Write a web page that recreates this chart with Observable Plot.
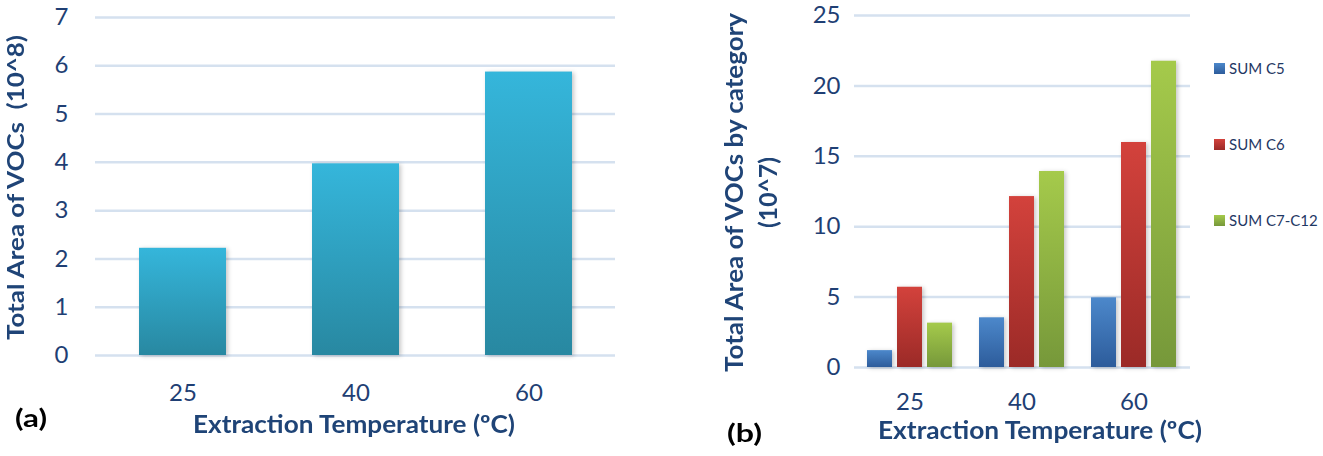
<!DOCTYPE html>
<html><head><meta charset="utf-8">
<script src="https://cdn.jsdelivr.net/npm/d3@7"></script>
<script src="https://cdn.jsdelivr.net/npm/@observablehq/plot@0.6"></script>
<style>
body{margin:0;background:#fff;}
#wrap{position:relative;width:1323px;height:456px;overflow:hidden;font-family:Lato,sans-serif;background:#fff;}
#wrap > svg{position:absolute;top:0;}
#legend{position:absolute;left:1214px;top:30px;color:#1f3864;font:15px Lato,sans-serif;}
#legend .row{height:76px;display:flex;align-items:center;}
#legend .sw{width:11px;height:11px;margin-right:4px;}
</style></head><body><div id="wrap"></div>
<script>
// ---- data ----
const temps = ["25", "40", "60"];
const totalVOCs = [2.22, 3.97, 5.87];          // (a) ×10^8
const seriesNames = ["SUM C5", "SUM C6", "SUM C7-C12"];
const sumC5 = [1.2, 3.53, 4.95];               // (b) ×10^7
const sumC6 = [5.7, 12.14, 15.98];
const sumC7C12 = [3.15, 13.92, 21.75];
const yTicksA = [0, 1, 2, 3, 4, 5, 6, 7];
const yTicksB = [0, 5, 10, 15, 20, 25];

const tickColor = "#1f3f74";
const titleColor = "#1f4477";
const gridColor = "#d5e1ef";
const tickFont = 24;

const gradients = {
  gA: ["#35b6db", "#2888a1"],
  gBlue: ["#4c88cb", "#2d5c9b"],
  gRed: ["#d3423c", "#9b2a27"],
  gGreen: ["#a5ca4b", "#76983a"]
};
function addDefs(svg) {
  let s = "<defs>";
  for (const [id, [a, b]] of Object.entries(gradients)) {
    s += `<linearGradient id="${id}" x1="0" y1="0" x2="0" y2="1"><stop offset="0" stop-color="${a}"/><stop offset="1" stop-color="${b}"/></linearGradient>`;
  }
  s += "</defs>";
  svg.insertAdjacentHTML("afterbegin", s);
  svg.querySelectorAll('g[aria-label="bar"]').forEach(g => g.style.filter = "drop-shadow(2px 1px 2px rgba(0,0,0,0.22))");
}

const wrap = document.getElementById("wrap");
const baseStyle = {fontFamily: "Lato, sans-serif", fontSize: tickFont + "px", color: tickColor, background: "transparent", overflow: "visible"};

// ---- chart (a) ----
const dataA = temps.map((t, i) => ({temp: t, value: totalVOCs[i]}));
const plotA = Plot.plot({
  width: 640, height: 456,
  marginTop: 17, marginBottom: 101, marginLeft: 95, marginRight: 25,
  style: baseStyle,
  x: {domain: temps, paddingInner: 0.5, paddingOuter: 0.25, label: null},
  y: {domain: [0, 7], label: null},
  marks: [
    Plot.ruleY(yTicksA, {stroke: gridColor, strokeWidth: 2.5}),
    Plot.barY(dataA, {x: "temp", y: "value", fill: "url(#gA)"}),
    Plot.axisX({tickSize: 0, tickPadding: 28, label: null, fontSize: tickFont}),
    Plot.axisY({ticks: yTicksA, tickFormat: d3.format("d"), tickSize: 0, tickPadding: 27, label: null, fontSize: tickFont})
  ]
});
plotA.style.left = "0px";
wrap.appendChild(plotA);
addDefs(plotA);

// ---- chart (b) ----
const seriesVals = [sumC5, sumC6, sumC7C12];
const dataB = temps.flatMap((t, i) => seriesNames.map((s, j) => ({temp: t, series: s, value: seriesVals[j][i]})));
const frameB = {width: 520, height: 456, marginTop: 15, marginBottom: 89, marginLeft: 154, marginRight: 30};
// continuous gridlines under the faceted bars
const gridB = Plot.plot({
  ...frameB, style: baseStyle,
  y: {domain: [0, 25], axis: null},
  marks: [Plot.ruleY(yTicksB, {stroke: gridColor, strokeWidth: 2.5})]
});
gridB.style.left = "700px";
wrap.appendChild(gridB);

const plotB = Plot.plot({
  ...frameB,
  style: baseStyle,
  fx: {domain: temps, paddingInner: 0.223, paddingOuter: 0.1115, label: null},
  x: {domain: seriesNames, paddingInner: 0.175, paddingOuter: 0, axis: null},
  y: {domain: [0, 25], label: null},
  color: {domain: seriesNames, range: ["url(#gBlue)", "url(#gRed)", "url(#gGreen)"]},
  marks: [
    Plot.barY(dataB, {fx: "temp", x: "series", y: "value", fill: "series"}),
    Plot.axisFx({anchor: "bottom", tickSize: 0, tickPadding: 25, label: null, fontSize: tickFont}),
    Plot.axisY({ticks: yTicksB, tickFormat: d3.format("d"), tickSize: 0, tickPadding: 26, label: null, fontSize: tickFont})
  ]
});
plotB.style.left = "700px";
wrap.appendChild(plotB);
addDefs(plotB);

// ---- legend ----
const legend = document.createElement("div");
legend.id = "legend";
seriesNames.forEach((s, j) => {
  const [a, b] = Object.values(gradients)[j + 1];
  const row = document.createElement("div");
  row.className = "row";
  row.innerHTML = `<span class="sw" style="background:linear-gradient(${a},${b})"></span><span>${s}</span>`;
  legend.appendChild(row);
});
wrap.appendChild(legend);

// ---- titles (overlay) ----
const ov = d3.create("svg").attr("width", 1323).attr("height", 456)
  .style("position", "absolute").style("left", "0px").style("top", "0px")
  .attr("font-family", "Lato, sans-serif").attr("font-weight", "bold");
function label(text, x, y, len, size, fill, rotate) {
  const t = ov.append("text").text(text).attr("font-size", size).attr("fill", fill)
    .style("white-space", "pre")
    .attr("text-anchor", "middle").attr("textLength", len).attr("lengthAdjust", "spacingAndGlyphs");
  if (rotate) t.attr("transform", `translate(${x},${y}) rotate(-90)`);
  else t.attr("x", x).attr("y", y);
}
label("(a)", 31, 427, 32, 25, "#000");
label("(b)", 744.5, 442, 35, 25, "#000");
label("Extraction Temperature (ºC)", 354, 433, 322, 24.5, titleColor);
label("Extraction Temperature (ºC)", 1040, 439, 324, 24, titleColor);
label("Total Area of VOCs  (10^8)", 24, 187.5, 305, 23.5, titleColor, true);
label("Total Area of VOCs by category", 743, 192.5, 359, 24.5, titleColor, true);
label("(10^7)", 777, 192.5, 71, 24.5, titleColor, true);
wrap.appendChild(ov.node());
</script></body></html>
